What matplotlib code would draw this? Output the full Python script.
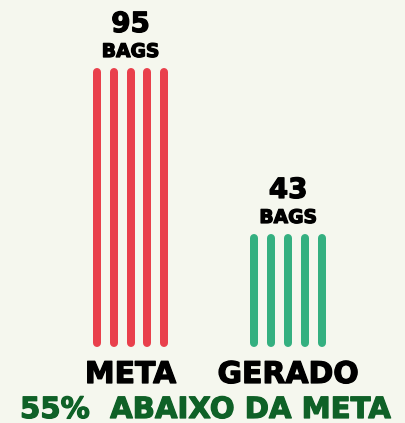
import numpy as np
import matplotlib.pyplot as plt
import matplotlib.patheffects as pe

# bag counts per category
categories = ['META', 'GERADO']
values = [95, 43]
unit_label = 'BAGS'
footer = '55%  ABAIXO DA META'

bg = '#f5f7ee'
colors = ['#e9404c', '#34b080']
footer_color = '#0f6127'

W, H = 406, 423
fig = plt.figure(figsize=(W / 100, H / 100), dpi=100, facecolor=bg)
ax = fig.add_axes([0, 0, 1, 1])
ax.set_facecolor(bg)
ax.set_xlim(0, W)
ax.set_ylim(-14.96, 117.56)
ax.axis('off')

base = 10.1          # value where the stripes start
centers = [130.6, 288.2]
n_stripes = 5
gap = 16.9
lw = 8 * 72 / 100    # 8 px wide stripes


def heavy(color):
    # thicken the bold glyphs a little
    return [pe.withStroke(linewidth=0.9, foreground=color)]


for cat, val, cx, col in zip(categories, values, centers, colors):
    xs = cx + (np.arange(n_stripes) - (n_stripes - 1) / 2) * gap
    for x in xs:
        ax.plot([x, x], [base, val], color=col, lw=lw, solid_capstyle='round')
    # value and unit above the stripes
    ax.annotate(str(val), (cx, val), xytext=(0, 40), textcoords='offset pixels',
                ha='center', va='baseline', fontsize=20, fontweight='bold', color='black',
                path_effects=heavy('black'))
    ax.annotate(unit_label, (cx, val), xytext=(0, 15), textcoords='offset pixels',
                ha='center', va='baseline', fontsize=13.5, fontweight='bold', color='black',
                path_effects=heavy('black'))
    fig.text(cx / W, 40 / H, cat, ha='center', va='baseline',
             fontsize=21.5, fontweight='bold', color='black', path_effects=heavy('black'))

fig.text(205 / W, 5 / H, footer, ha='center', va='baseline',
         fontsize=21, fontweight='bold', color=footer_color, path_effects=heavy(footer_color))

fig.savefig('out.png', dpi=100, facecolor=bg)
